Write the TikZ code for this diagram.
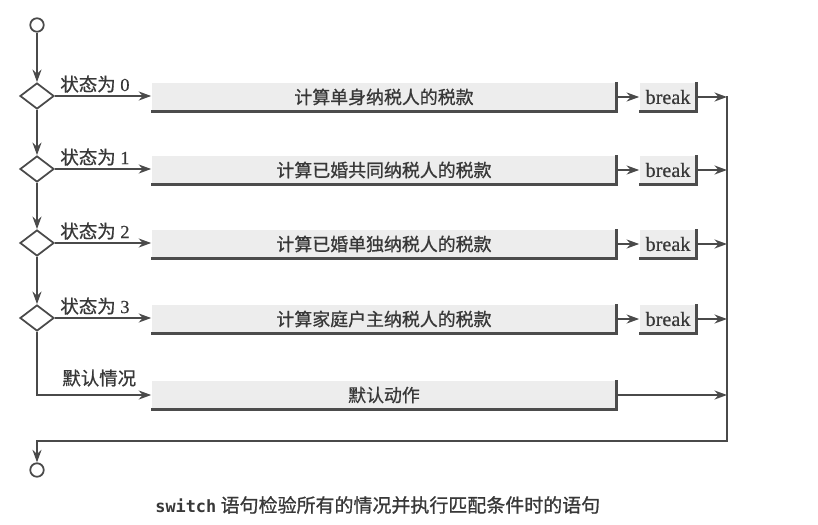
\documentclass[tikz,border=0pt]{standalone}
\usepackage{fontspec}
\setmainfont{Liberation Serif}
\newfontfamily\cjk[UprightFeatures={FakeBold=0.8}]{Noto Sans CJK SC}
\newfontfamily\serifb[UprightFeatures={FakeBold=0.6}]{Liberation Serif}
\newfontfamily\capmono{DejaVu Sans Mono}
\usetikzlibrary{shapes.geometric,arrows.meta}
\definecolor{ink}{HTML}{4A4A4A}
\definecolor{txt}{HTML}{383838}
\definecolor{boxfill}{HTML}{EDEDED}

\begin{document}
\begin{tikzpicture}[x=0.02cm,y=-0.02cm]

\tikzset{
  line/.style={line width=1.1pt,color=ink},
  flow/.style={line,-{Stealth[length=2.5mm,width=1.8mm]}},
  term/.style={circle,draw=ink,line width=1pt,fill=white,minimum size=0.27cm,inner sep=0pt},
  test/.style={diamond,draw=ink,line width=1pt,minimum width=0.68cm,minimum height=0.52cm,inner sep=0pt},
  task/.style={fill=boxfill,minimum width=9.3cm,minimum height=0.58cm,inner sep=0pt,text=txt,font=\cjk\fontsize{10.2}{12}\selectfont},
  brk/.style={task,minimum width=1.14cm,font=\serifb\fontsize{11.5}{13}\selectfont},
  lbl/.style={text=txt,inner sep=0pt,anchor=west,font=\serifb\fontsize{10.5}{12}\selectfont},
  shade/.style={line width=1.6pt,color=black!70}
}

\useasboundingbox (0,0) rectangle (818,524);

\node[term] (start) at (37,25) {};
\node[term] (stop) at (37,470) {};

\coordinate (bustop) at (727,96);
\coordinate (busbot) at (727,441);

% the four cases
\foreach \i/\y/\txt in {0/96/计算单身纳税人的税款,1/169/计算已婚共同纳税人的税款,2/243/计算已婚单独纳税人的税款,3/318/计算家庭户主纳税人的税款} {
  \node[test] (t\i) at (37,\y) {};
  \node[task] (c\i) at (384,\y+1) {\txt};
  \node[brk] (b\i) at (668,\y+1) {break};
  \node[lbl] (l\i) at (60,\y-12) {{\cjk 状态为} \i};
  \draw[shade] (c\i.north east) -- (c\i.south east) -- (c\i.south west);
  \draw[shade] (b\i.north east) -- (b\i.south east) -- (b\i.south west);
  \draw[flow] (t\i.east) -- (t\i.east -| c\i.west);
  \draw[flow] (c\i.east) -- (b\i.west);
  \draw[flow] (b\i.east) -- (b\i.east -| bustop);
}

\foreach \a/\b in {start/t0,t0/t1,t1/t2,t2/t3}
  \draw[flow] (\a) -- (\b);

% default
\node[task] (dflt) at (384,395) {默认动作};
\draw[shade] (dflt.north east) -- (dflt.south east) -- (dflt.south west);
\node[lbl] (ldflt) at (62,378) {{\cjk 默认情况}};
\draw[flow] (t3.south) |- (dflt.west);
\draw[flow] (dflt.east) -- (dflt.east -| bustop);

\draw[flow] (bustop) -- (busbot) -| (stop);

\node[anchor=west,text=txt,inner sep=0pt] (caption) at (155,505)
  {{\capmono\bfseries\fontsize{9.6}{12}\selectfont switch} {\cjk\fontsize{10.8}{13}\selectfont 语句检验所有的情况并执行匹配条件时的语句}};

\end{tikzpicture}
\end{document}
